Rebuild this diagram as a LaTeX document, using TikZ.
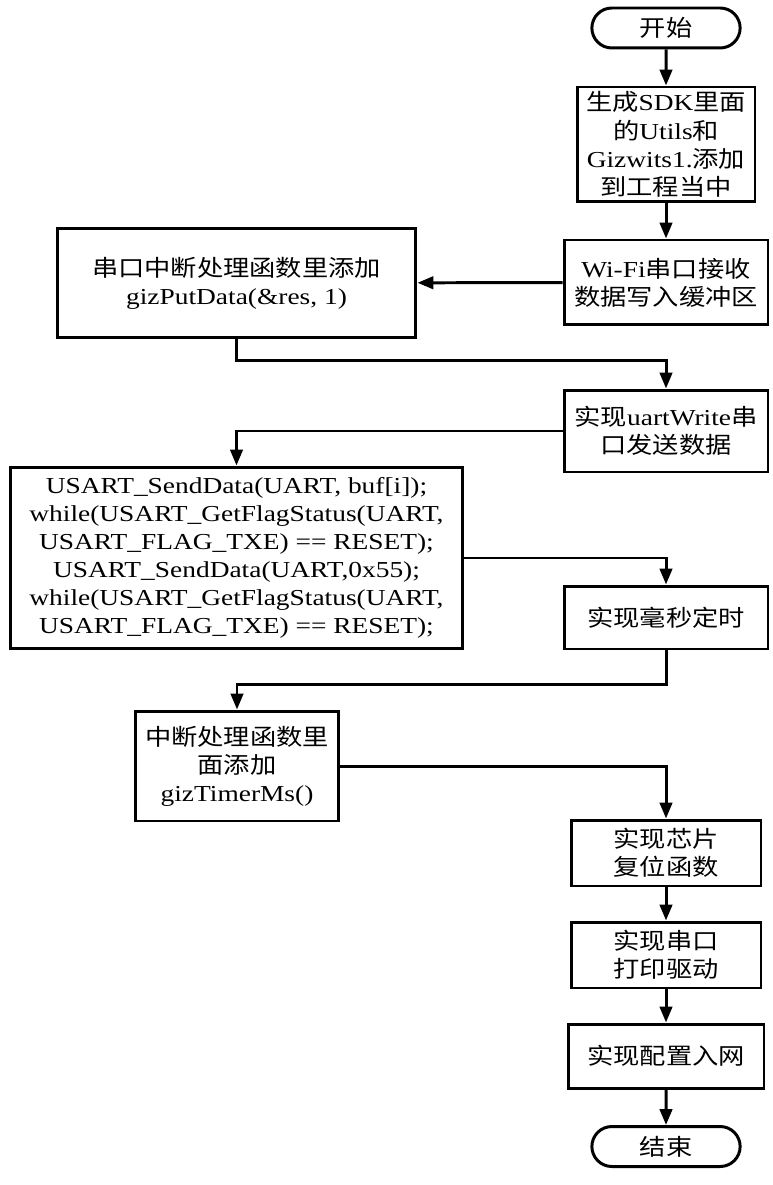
\documentclass[tikz,border=0pt]{standalone}
\usepackage{fontspec}
\setmainfont{Liberation Serif}[FakeStretch=1.2]
\newfontfamily\cjk{Noto Sans CJK SC}[FakeStretch=1.15]
\newcommand\zh[1]{{\cjk #1}}
\usetikzlibrary{arrows.meta,shapes.misc}
\begin{document}
\begin{tikzpicture}[x=0.02cm, y=0.02cm]
\tikzset{kasten/.style={rectangle, draw=black, line width=1.7pt, align=center, inner sep=1pt, font=\fontsize{13}{16}\selectfont},
	ende/.style={rounded rectangle, draw=black, line width=1.7pt, minimum width=3.2cm, minimum height=0.8cm, font=\fontsize{13}{16}\selectfont},
	pfeil/.style={line width=1.7pt, -{Triangle[length=9pt,width=7pt]}}}
\useasboundingbox (0,0) rectangle (773,-1185);
\node[ende] at (666,-28) (start) {\zh{开始}};
\node[kasten, minimum width=3.56cm, minimum height=2.3cm] at (666,-144.5) (sdk) {\zh{生成}SDK\zh{里面}\\\zh{的}Utils\zh{和}\\Gizwits1.\zh{添加}\\\zh{到工程当中}};
\node[kasten, minimum width=4.08cm, minimum height=1.7cm] at (666,-282.5) (wifi) {Wi-Fi\zh{串口接收}\\\zh{数据写入缓冲区}};
\node[kasten, minimum width=7.18cm, minimum height=2.2cm] at (236.5,-283) (irq) {\zh{串口中断处理函数里添加}\\gizPutData(\&res, 1)};
\node[kasten, minimum width=4.08cm, minimum height=1.64cm] at (666,-431) (uart) {\zh{实现}uartWrite\zh{串}\\\zh{口发送数据}};
\node[kasten, minimum width=9.06cm, minimum height=3.64cm] at (236.5,-558) (usart) {USART\_SendData(UART, buf[i]);\\while(USART\_GetFlagStatus(UART,\\USART\_FLAG\_TXE) == RESET);\\USART\_SendData(UART,0x55);\\while(USART\_GetFlagStatus(UART,\\USART\_FLAG\_TXE) == RESET);};
\node[kasten, minimum width=4.08cm, minimum height=1.26cm] at (666,-617.5) (ms) {\zh{实现毫秒定时}};
\node[kasten, minimum width=4.08cm, minimum height=2.2cm] at (237,-766) (timer) {\zh{中断处理函数里}\\\zh{面添加}\\gizTimerMs()};
\node[kasten, minimum width=3.8cm, minimum height=1.32cm] at (666,-853) (chip) {\zh{实现芯片}\\\zh{复位函数}};
\node[kasten, minimum width=3.8cm, minimum height=1.32cm] at (666,-955) (print) {\zh{实现串口}\\\zh{打印驱动}};
\node[kasten, minimum width=3.92cm, minimum height=1.28cm] at (666,-1056) (net) {\zh{实现配置入网}};
\node[ende] at (666,-1146.5) (end) {\zh{结束}};
			\draw [pfeil] (start) -- (sdk);
			\draw [pfeil] (sdk) -- (wifi);
			\draw [pfeil] (wifi) -- (irq);
			\draw [pfeil] (irq.south) -- ++(0,-21) -| (uart.north);
			\draw [pfeil] (uart.west) -| (usart.north);
			\draw [pfeil] (usart.east) -| (ms.north);
			\draw [pfeil] (ms.south) -- ++(0,-34) -| (timer.north);
			\draw [pfeil] (timer.east) -| (chip.north);
			\draw [pfeil] (chip) -- (print);
			\draw [pfeil] (print) -- (net);
			\draw [pfeil] (net) -- (end);
		\end{tikzpicture}
\end{document}
